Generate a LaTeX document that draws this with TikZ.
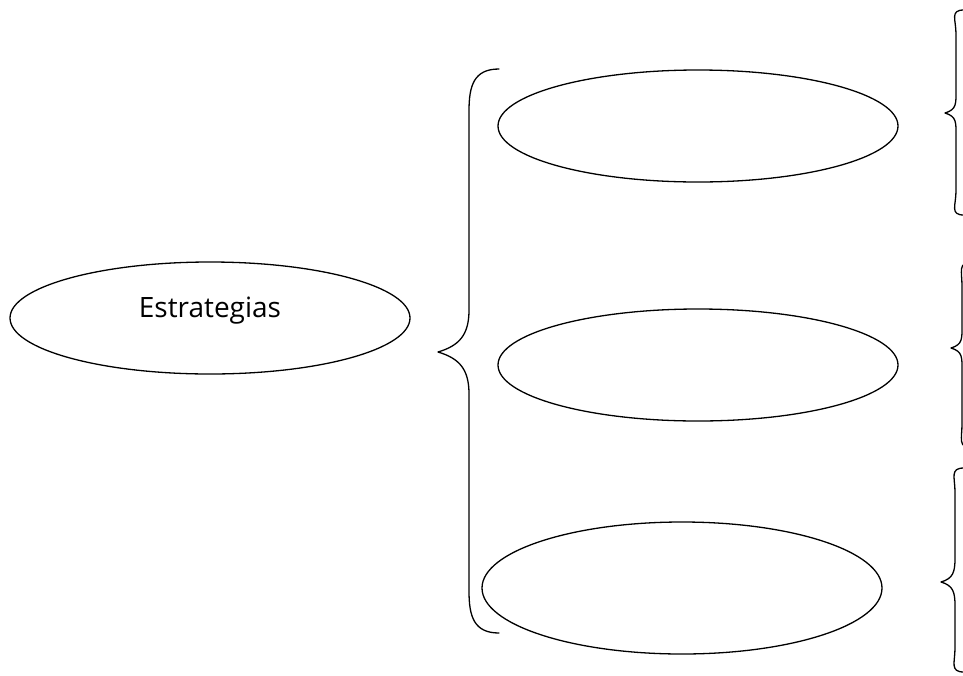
\documentclass[tikz,border=0pt]{standalone}
\usepackage{fontspec}
\setmainfont{Open Sans}
\usetikzlibrary{shapes.geometric}

% curly brace opening to the right: ends x, line x, tip x, top y, tip y, bottom y, bend
\newcommand{\drawbrace}[7]{%
	\draw[brace line] (#1,#4) .. controls +(-0.6*#7,0) and +(0,-0.6*#7) .. (#2,#4+#7)
	-- (#2,#5-#7) .. controls +(0,0.6*#7) and +(0.5*#7,-0.15*#7) .. (#3,#5)
	.. controls +(0.5*#7,0.15*#7) and +(0,-0.6*#7) .. (#2,#5+#7)
	-- (#2,#6-#7) .. controls +(0,0.6*#7) and +(-0.6*#7,0) .. (#1,#6);}

\begin{document}
\begin{tikzpicture}[x=1pt, y=-1pt, line width=1.3pt]
		\tikzstyle{oval}=[ellipse, draw, inner sep=0pt, minimum width=400pt, minimum height=112pt]
		\tikzstyle{brace line}=[line cap=round, line join=round]
		\useasboundingbox (0,0) rectangle (963,675);
		
		\node[oval, font=\fontsize{28}{32}\selectfont, text height=19pt, text depth=21pt](estrategias) at (210,318) {Estrategias};
		
		\node[oval](est-1) at (698,126) {};
		\node[oval](est-2) at (698,365) {};
		\node[oval, minimum height=132pt](est-3) at (682,588) {};
		
		% big brace
		\drawbrace{499}{469}{438}{69}{352}{633}{42}
		
		% small braces at the right border
		\drawbrace{964}{956}{945}{10}{113}{215}{24}
		\drawbrace{972}{962}{951}{262}{348}{448}{24}
		\drawbrace{964}{955}{941}{468}{582}{672}{24}
\end{tikzpicture}
\end{document}
